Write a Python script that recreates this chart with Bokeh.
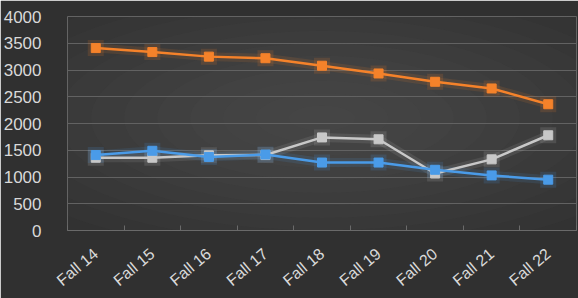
from bokeh.plotting import figure
from bokeh.models import FixedTicker, Range1d
from bokeh.embed import file_html
from bokeh.resources import INLINE

terms = ["Fall 14", "Fall 15", "Fall 16", "Fall 17", "Fall 18", "Fall 19", "Fall 20", "Fall 21", "Fall 22"]
orange_vals = [3410, 3335, 3250, 3220, 3080, 2935, 2780, 2655, 2360]
blue_vals = [1410, 1490, 1375, 1420, 1270, 1270, 1135, 1030, 950]
gray_vals = [1360, 1360, 1405, 1410, 1740, 1705, 1065, 1330, 1780]
y_ticks = [0, 500, 1000, 1500, 2000, 2500, 3000, 3500, 4000]

xs = list(range(len(terms)))

p = figure(width=578, height=298, output_backend="svg", toolbar_location=None,
           x_range=Range1d(-0.5, len(terms) - 0.5), y_range=Range1d(0, 4000),
           min_border_left=67, min_border_right=2, min_border_top=16, min_border_bottom=68)

bg = "#303030"
p.background_fill_color = bg
p.border_fill_color = bg
p.outline_line_color = None

# soft radial lightening of the backdrop
for k in range(12):
    f = 1 - k / 12
    p.ellipse(x=[4], y=[2100], width=[14 * f], height=[5600 * f],
              fill_color="#7a7a7a", fill_alpha=0.03, line_color=None)

p.ygrid.grid_line_color = "#626262"
p.ygrid.grid_line_width = 1
p.xgrid.grid_line_color = None

p.yaxis.ticker = FixedTicker(ticks=y_ticks)
p.yaxis.axis_line_color = None
p.yaxis.major_tick_line_color = None
p.yaxis.minor_tick_line_color = None
p.yaxis.major_label_text_color = "#d9d9d9"
p.yaxis.major_label_text_font = "Liberation Sans"
p.yaxis.major_label_text_font_size = "17px"
p.yaxis.major_label_standoff = 20

p.xaxis.ticker = FixedTicker(ticks=xs, minor_ticks=[i - 0.5 for i in range(len(terms) + 1)])
p.xaxis.major_label_overrides = {i: t for i, t in enumerate(terms)}
p.xaxis.axis_line_color = "#6a6a6a"
p.xaxis.major_tick_line_color = None
p.xaxis.minor_tick_line_color = "#6a6a6a"
p.xaxis.minor_tick_in = 5
p.xaxis.minor_tick_out = 0
p.xaxis.major_label_orientation = 0.7
p.xaxis.major_label_text_color = "#d9d9d9"
p.xaxis.major_label_text_font = "Liberation Sans"
p.xaxis.major_label_text_font_size = "16px"
p.xaxis.major_label_standoff = 15

series = [(gray_vals, "#c8c8c8"), (blue_vals, "#4a9be8"), (orange_vals, "#f5822a")]
for vals, col in series:
    p.line(xs, vals, line_color=col, line_width=9, line_alpha=0.12)
    p.scatter(xs, vals, marker="square", size=16, fill_color=col, fill_alpha=0.15, line_color=None)
for vals, col in series:
    p.line(xs, vals, line_color=col, line_width=2.5)
    p.scatter(xs, vals, marker="square", size=9, fill_color=col, line_color=col)

open("out.html", "w").write(file_html(p, INLINE))
